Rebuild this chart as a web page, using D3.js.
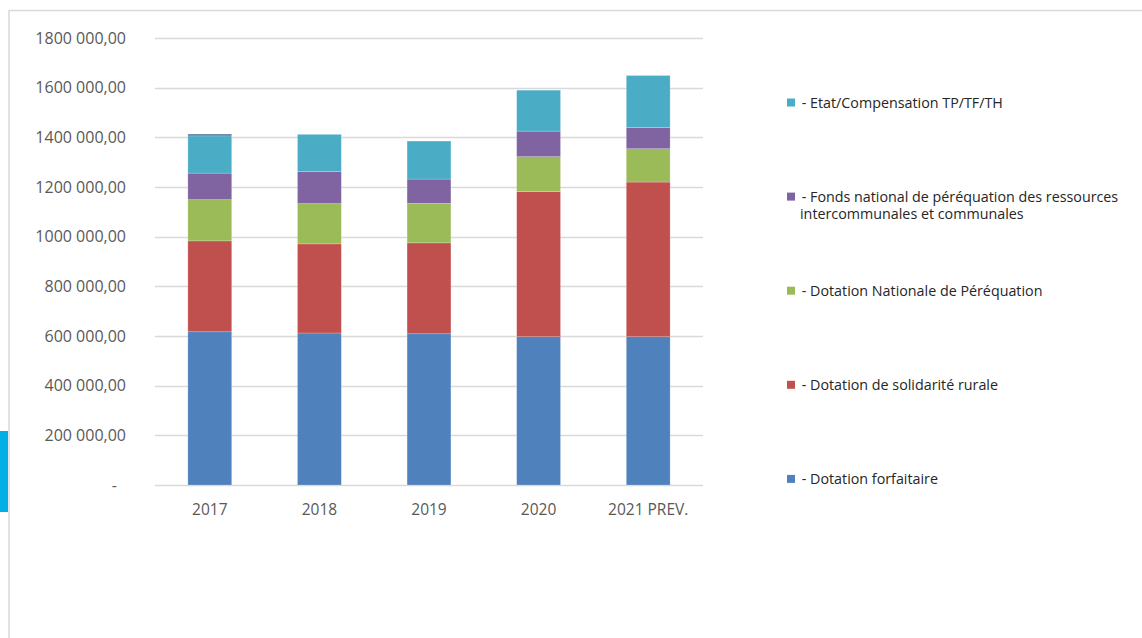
<!DOCTYPE html>
<html><head><meta charset="utf-8">
<script src="https://cdn.jsdelivr.net/npm/d3@7"></script>
<style>
html,body{margin:0;padding:0;background:#fff;}
svg{display:block;}
text{font-family:"Open Sans","Noto Sans",sans-serif;}
</style></head>
<body>
<svg id="chart" width="1142" height="638"></svg>
<script>
const categories = ["2017","2018","2019","2020","2021 PREV."];
const dotationForfaitaire = [617000, 612000, 609000, 597000, 597000];
const dotationSolidariteRurale = [366000, 359000, 366000, 584000, 623000];
const dotationNationalePerequation = [166000, 162000, 159000, 141000, 134000];
const fondsNationalPerequation = [107000, 130000, 98000, 103000, 86000];
const etatCompensation = [150000, 149000, 153000, 165000, 209000];
const autre = [7000, 0, 0, 0, 0];
const yTicks = [0,200000,400000,600000,800000,1000000,1200000,1400000,1600000,1800000];
const seriesNames = [" - Dotation forfaitaire"," - Dotation de solidarité rurale"," - Dotation Nationale de Péréquation"," - Fonds national de péréquation des ressources|intercommunales et communales"," - Etat/Compensation TP/TF/TH",""];
const seriesColors = ["#4f81bd","#c0504d","#9bbb59","#8064a2","#4bacc6","#4a6a92"];

const seriesArrays = [dotationForfaitaire, dotationSolidariteRurale, dotationNationalePerequation, fondsNationalPerequation, etatCompensation, autre];
const keys = ["s0","s1","s2","s3","s4","s5"];
const rows = categories.map((c,i)=>{const r={cat:c}; keys.forEach((k,j)=>r[k]=seriesArrays[j][i]); return r;});
const stacked = d3.stack().keys(keys)(rows);

const svg = d3.select("#chart");
// frame
svg.append("rect").attr("x",0).attr("y",431).attr("width",8).attr("height",81).attr("fill","#00b0e4");
svg.append("line").attr("x1",9).attr("x2",9).attr("y1",10).attr("y2",638).attr("stroke","#d9d9d9").attr("stroke-width",1.5);
svg.append("line").attr("x1",9).attr("x2",1142).attr("y1",10.5).attr("y2",10.5).attr("stroke","#d9d9d9").attr("stroke-width",1.5);

const x = d3.scaleBand().domain(categories).range([155,703]).paddingInner(0.6).paddingOuter(0.3);
const y = d3.scaleLinear().domain([0,1800000]).range([485,38]);

function fmtTick(v){
  const s = Math.round(v).toString();
  const th = s.slice(-3), hi = s.slice(0,-3);
  return hi + " " + th + ",00";
}

// gridlines
svg.append("g").selectAll("line").data(yTicks).join("line")
  .attr("x1",155).attr("x2",703)
  .attr("y1",d=>Math.round(y(d))+0.5).attr("y2",d=>Math.round(y(d))+0.5)
  .attr("stroke","#d9d9d9").attr("stroke-width",1.3);

// y labels
svg.append("g").selectAll("text").data(yTicks).join("text")
  .attr("x",d=>d===0?117:126).attr("y",d=>y(d)+5.8)
  .attr("text-anchor","end").attr("font-size",16).attr("fill","#595959")
  .text(d=>d===0?"-":fmtTick(d));

// bars
svg.append("g").selectAll("g").data(stacked).join("g")
  .attr("fill",(d,i)=>seriesColors[i])
  .selectAll("rect").data(d=>d).join("rect")
  .attr("x",d=>x(d.data.cat)).attr("width",x.bandwidth())
  .attr("y",d=>y(d[1])).attr("height",d=>Math.max(0,y(d[0])-y(d[1])))
  .attr("stroke","#ffffff").attr("stroke-opacity",0.35).attr("stroke-width",0.6);

// x labels
svg.append("g").selectAll("text").data(categories).join("text")
  .attr("x",d=>x(d)+x.bandwidth()/2).attr("y",515)
  .attr("text-anchor","middle").attr("font-size",15.5).attr("fill","#595959").text(d=>d);

// legend (reverse order, top to bottom)
const legendIdx = [4,3,2,1,0];
const lg = svg.append("g");
legendIdx.forEach((si,k)=>{
  const cy = 102.5 + k*94.1;
  lg.append("rect").attr("x",787).attr("y",cy-4).attr("width",8).attr("height",8).attr("fill",seriesColors[si]);
  const lines = seriesNames[si].split("|");
  lines.forEach((t,li)=>{
    lg.append("text").attr("x",li===0?798:800).attr("y",cy+5.5+li*17)
      .attr("font-size",14.3).attr("fill","#262626").style("white-space","pre").text(t);
  });
});
</script>
</body></html>
